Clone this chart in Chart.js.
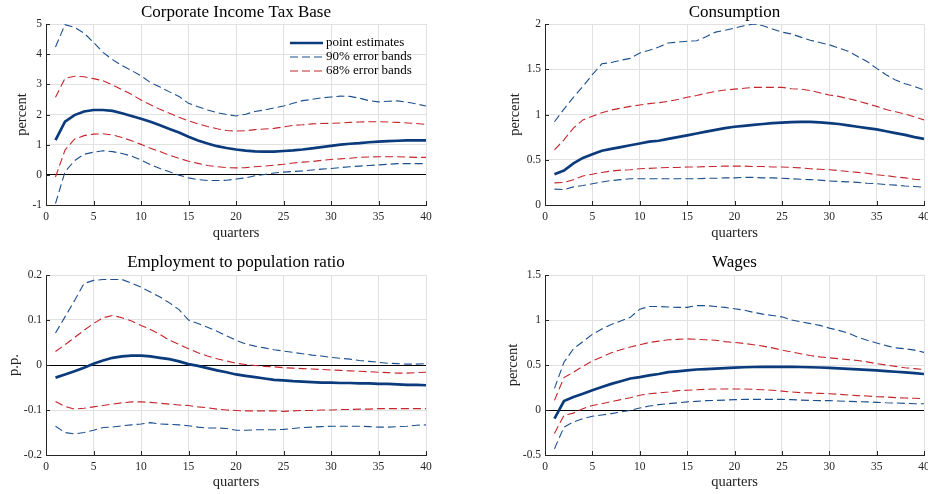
<!DOCTYPE html>
<html><head><meta charset="utf-8">
<script src="https://cdn.jsdelivr.net/npm/chart.js@4.4.1/dist/chart.umd.min.js"></script>
<style>
html,body{margin:0;padding:0;background:#fff}
body{width:928px;height:494px;position:relative;overflow:hidden}
.p{position:absolute;width:464px;height:247px}
canvas{display:block}
</style></head><body>
<div class="p" style="left:0;top:0"><canvas id="c1" width="464" height="247"></canvas></div>
<div class="p" style="left:464px;top:0"><canvas id="c2" width="464" height="247"></canvas></div>
<div class="p" style="left:0;top:247px"><canvas id="c3" width="464" height="247"></canvas></div>
<div class="p" style="left:464px;top:247px"><canvas id="c4" width="464" height="247"></canvas></div>
<script>
// ---------------- data ----------------
const quarters = [1,2,3,4,5,6,7,8,9,10,11,12,13,14,15,16,17,18,19,20,21,22,23,24,25,26,27,28,29,30,31,32,33,34,35,36,37,38,39,40];
const xTicks = [0,5,10,15,20,25,30,35,40];
const legendLabels = ['point estimates','90% error bands','68% error bands'];
const panelTitles = ['Corporate Income Tax Base','Consumption','Employment to population ratio','Wages'];
const yLabels = ['percent','percent','p.p.','percent'];
const xLabel = 'quarters';

// Corporate Income Tax Base
const citPoint = [1.15,1.76,1.98,2.10,2.15,2.15,2.12,2.04,1.95,1.86,1.76,1.64,1.52,1.40,1.26,1.14,1.04,0.95,0.89,0.84,0.80,0.78,0.77,0.77,0.79,0.81,0.84,0.88,0.92,0.96,1.00,1.03,1.05,1.08,1.10,1.12,1.13,1.14,1.14,1.14];
const citU90 = [4.24,4.98,4.89,4.70,4.39,4.06,3.82,3.62,3.46,3.28,3.06,2.91,2.75,2.60,2.37,2.26,2.15,2.06,2.00,1.95,2.01,2.10,2.15,2.22,2.28,2.37,2.46,2.50,2.55,2.58,2.61,2.60,2.54,2.46,2.42,2.44,2.45,2.41,2.35,2.28];
const citL90 = [-0.95,0.10,0.47,0.68,0.75,0.80,0.77,0.71,0.62,0.49,0.34,0.21,0.10,-0.01,-0.10,-0.16,-0.19,-0.19,-0.18,-0.14,-0.10,-0.03,0.01,0.06,0.09,0.11,0.13,0.16,0.19,0.21,0.24,0.27,0.29,0.31,0.33,0.35,0.37,0.37,0.37,0.37];
const citU68 = [2.57,3.20,3.27,3.25,3.19,3.12,2.98,2.82,2.67,2.48,2.32,2.17,2.04,1.91,1.79,1.69,1.60,1.53,1.47,1.45,1.46,1.50,1.52,1.54,1.59,1.64,1.66,1.69,1.70,1.71,1.72,1.74,1.75,1.76,1.76,1.75,1.74,1.72,1.70,1.67];
const citL68 = [-0.07,0.82,1.18,1.30,1.35,1.36,1.32,1.24,1.13,1.01,0.88,0.77,0.65,0.55,0.45,0.38,0.31,0.27,0.24,0.23,0.24,0.27,0.29,0.32,0.35,0.39,0.42,0.44,0.48,0.51,0.53,0.55,0.58,0.59,0.60,0.60,0.60,0.59,0.58,0.58];

// Consumption
const consPoint = [0.34,0.38,0.46,0.52,0.56,0.60,0.62,0.64,0.66,0.68,0.70,0.71,0.73,0.75,0.77,0.79,0.81,0.83,0.85,0.865,0.875,0.885,0.895,0.905,0.91,0.915,0.918,0.918,0.913,0.905,0.895,0.88,0.865,0.85,0.835,0.815,0.795,0.775,0.75,0.73];
const consU90 = [0.92,1.06,1.19,1.31,1.44,1.56,1.575,1.60,1.62,1.68,1.71,1.745,1.79,1.80,1.81,1.815,1.86,1.91,1.93,1.955,1.98,2.00,1.98,1.945,1.91,1.89,1.855,1.82,1.795,1.77,1.735,1.70,1.64,1.585,1.51,1.44,1.38,1.34,1.31,1.27];
const consL90 = [0.175,0.17,0.20,0.215,0.235,0.255,0.27,0.28,0.29,0.29,0.29,0.29,0.29,0.29,0.29,0.29,0.295,0.295,0.30,0.30,0.305,0.305,0.30,0.30,0.295,0.29,0.285,0.28,0.275,0.265,0.26,0.255,0.25,0.24,0.235,0.225,0.22,0.21,0.205,0.195];
const consU68 = [0.61,0.72,0.85,0.94,0.98,1.02,1.05,1.07,1.09,1.105,1.12,1.13,1.145,1.165,1.19,1.21,1.235,1.255,1.27,1.28,1.29,1.30,1.30,1.30,1.30,1.285,1.28,1.265,1.24,1.215,1.20,1.175,1.15,1.12,1.09,1.055,1.03,1.005,0.975,0.94];
const consL68 = [0.245,0.25,0.28,0.32,0.34,0.36,0.375,0.385,0.39,0.40,0.405,0.41,0.415,0.415,0.42,0.42,0.425,0.425,0.43,0.43,0.43,0.425,0.425,0.42,0.42,0.415,0.41,0.40,0.395,0.39,0.38,0.37,0.36,0.35,0.335,0.325,0.31,0.30,0.285,0.275];

// Employment to population ratio
const empPoint = [-0.028,-0.021,-0.014,-0.006,0.003,0.010,0.016,0.019,0.021,0.021,0.019,0.016,0.013,0.008,0.002,-0.002,-0.007,-0.012,-0.016,-0.021,-0.024,-0.027,-0.030,-0.033,-0.034,-0.036,-0.037,-0.038,-0.039,-0.039,-0.040,-0.040,-0.041,-0.041,-0.042,-0.042,-0.043,-0.044,-0.044,-0.045];
const empU90 = [0.071,0.107,0.143,0.181,0.188,0.190,0.190,0.190,0.182,0.173,0.162,0.151,0.138,0.123,0.100,0.092,0.084,0.075,0.065,0.055,0.047,0.042,0.038,0.034,0.031,0.028,0.025,0.022,0.020,0.017,0.015,0.013,0.010,0.008,0.006,0.004,0.003,0.002,0.002,0.003];
const empL90 = [-0.136,-0.150,-0.153,-0.150,-0.145,-0.139,-0.138,-0.135,-0.133,-0.131,-0.128,-0.131,-0.132,-0.133,-0.135,-0.138,-0.140,-0.140,-0.141,-0.145,-0.145,-0.144,-0.144,-0.144,-0.143,-0.141,-0.139,-0.138,-0.137,-0.136,-0.136,-0.136,-0.136,-0.137,-0.138,-0.138,-0.137,-0.136,-0.134,-0.133];
const empU68 = [0.030,0.045,0.061,0.077,0.092,0.105,0.110,0.105,0.098,0.088,0.079,0.068,0.055,0.046,0.036,0.027,0.020,0.014,0.009,0.004,0.001,-0.001,-0.003,-0.004,-0.006,-0.007,-0.008,-0.009,-0.010,-0.011,-0.012,-0.013,-0.014,-0.015,-0.016,-0.017,-0.018,-0.018,-0.017,-0.016];
const empL68 = [-0.081,-0.092,-0.098,-0.096,-0.093,-0.090,-0.087,-0.084,-0.082,-0.082,-0.083,-0.085,-0.087,-0.089,-0.090,-0.093,-0.095,-0.098,-0.100,-0.101,-0.102,-0.102,-0.102,-0.102,-0.103,-0.102,-0.101,-0.101,-0.100,-0.100,-0.099,-0.099,-0.098,-0.098,-0.097,-0.097,-0.097,-0.097,-0.097,-0.097];

// Wages
const wagePoint = [-0.096,0.10,0.145,0.18,0.22,0.255,0.29,0.32,0.35,0.365,0.385,0.40,0.42,0.43,0.44,0.45,0.455,0.46,0.465,0.47,0.475,0.478,0.48,0.48,0.48,0.48,0.478,0.475,0.472,0.468,0.463,0.457,0.452,0.446,0.44,0.432,0.425,0.417,0.41,0.40];
const wageU90 = [0.24,0.53,0.68,0.76,0.84,0.90,0.95,0.99,1.03,1.12,1.15,1.15,1.145,1.14,1.14,1.16,1.16,1.15,1.14,1.125,1.11,1.085,1.065,1.05,1.035,1.00,0.98,0.96,0.94,0.91,0.885,0.855,0.81,0.775,0.745,0.715,0.69,0.68,0.665,0.64];
const wageL90 = [-0.43,-0.19,-0.133,-0.096,-0.07,-0.055,-0.04,-0.022,-0.004,0.022,0.044,0.06,0.07,0.08,0.09,0.096,0.104,0.107,0.11,0.115,0.118,0.118,0.118,0.118,0.118,0.115,0.11,0.107,0.104,0.104,0.10,0.096,0.093,0.09,0.085,0.08,0.078,0.074,0.07,0.07];
const wageU68 = [0.107,0.36,0.42,0.485,0.545,0.59,0.635,0.67,0.70,0.725,0.75,0.765,0.78,0.785,0.79,0.785,0.78,0.775,0.76,0.75,0.74,0.725,0.71,0.69,0.665,0.645,0.625,0.605,0.59,0.58,0.57,0.56,0.55,0.535,0.515,0.50,0.485,0.47,0.46,0.45];
const wageL68 = [-0.26,-0.06,-0.035,0.015,0.05,0.07,0.093,0.115,0.137,0.163,0.18,0.19,0.20,0.215,0.22,0.225,0.23,0.233,0.233,0.233,0.233,0.23,0.225,0.22,0.21,0.20,0.193,0.19,0.185,0.18,0.175,0.167,0.16,0.155,0.148,0.145,0.137,0.133,0.13,0.125];

// ---------------- style ----------------
const FONT = '"Liberation Serif", "Times New Roman", serif';
const C_POINT = '#0b3b7c';
const C_B90 = '#1c4f8e';
const C_R68 = '#c4262c';
const AXIS = '#262626';
const GRID = '#e1e1e1';
const DASH = [8,4];

function pts(v){ return quarters.map((q,i)=>({x:q, y:v[i]})); }
function fmt(v){ return String(Math.round(v*1000)/1000); }

function makePanel(id, o){
  const datasets = [
    {label:legendLabels[0], data:pts(o.point), borderColor:C_POINT, borderWidth:2.7},
    {label:legendLabels[1], data:pts(o.u90), borderColor:C_B90, borderWidth:1.1, borderDash:DASH},
    {label:legendLabels[1], data:pts(o.l90), borderColor:C_B90, borderWidth:1.1, borderDash:DASH},
    {label:legendLabels[2], data:pts(o.u68), borderColor:C_R68, borderWidth:1.1, borderDash:DASH},
    {label:legendLabels[2], data:pts(o.l68), borderColor:C_R68, borderWidth:1.1, borderDash:DASH}
  ].map(d=>Object.assign({pointRadius:0, fill:false, tension:0, borderCapStyle:'butt'}, d));

  const titlePlugin = {
    id:'panelTitle',
    afterDraw(chart){
      const {ctx, chartArea:a} = chart;
      ctx.save();
      ctx.font = '17px ' + FONT; ctx.fillStyle = '#000';
      ctx.textAlign = 'center'; ctx.textBaseline = 'middle';
      ctx.fillText(o.title, (a.left+a.right)/2, o.titleY);
      ctx.restore();
    }
  };
  const inTicks = {
    id:'inTicks',
    afterDatasetsDraw(chart){
      const {ctx, chartArea:a, scales:{x, y}} = chart;
      ctx.save(); ctx.strokeStyle = AXIS; ctx.lineWidth = 1; ctx.beginPath();
      x.ticks.forEach(t=>{ const px = Math.round(x.getPixelForValue(t.value))+0.5; ctx.moveTo(px, a.bottom); ctx.lineTo(px, a.bottom-4); });
      y.ticks.forEach(t=>{ const py = Math.round(y.getPixelForValue(t.value))+0.5; ctx.moveTo(a.left, py); ctx.lineTo(a.left+4, py); });
      ctx.stroke(); ctx.restore();
    }
  };
  const legendPlugin = {
    id:'lineLegend',
    afterDraw(chart){
      if(!o.legend) return;
      const {ctx, chartArea:a} = chart;
      const ds = chart.data.datasets;
      const rows = [ds[0], ds[1], ds[3]];
      ctx.save();
      ctx.font = '13px ' + FONT; ctx.textBaseline = 'middle'; ctx.textAlign = 'left'; ctx.fillStyle = '#000';
      rows.forEach((d,i)=>{
        const yy = a.top + 19 + i*14;
        const x0 = a.left + 244;
        ctx.beginPath(); ctx.strokeStyle = d.borderColor; ctx.lineWidth = d.borderWidth;
        ctx.setLineDash(d.borderDash || []);
        ctx.moveTo(x0, yy); ctx.lineTo(x0+33, yy); ctx.stroke();
        ctx.setLineDash([]);
        ctx.fillText(legendLabels[i], x0+36, yy);
      });
      ctx.restore();
    }
  };

  new Chart(document.getElementById(id), {
    type:'line',
    data:{datasets},
    plugins:[titlePlugin, inTicks, legendPlugin],
    options:{
      responsive:false, animation:false, devicePixelRatio:1,
      layout:{padding:{top:o.padTop, right:o.padRight, bottom:0, left:0}},
      plugins:{legend:{display:false}, title:{display:false}, tooltip:{enabled:false}},
      scales:{
        x:{
          type:'linear', min:0, max:40,
          afterBuildTicks(s){ s.ticks = xTicks.map(v=>({value:v})); },
          afterFit(s){ s.height = o.xH; s.paddingLeft = 0; s.paddingRight = 0; },
          grid:{color:GRID, lineWidth:1, drawTicks:false},
          border:{color:AXIS, width:1},
          ticks:{color:AXIS, font:{family:FONT, size:11.5}, padding:5, maxRotation:0, autoSkip:false, callback:v=>fmt(v)},
          title:{display:true, text:xLabel, color:'#222', font:{family:FONT, size:14.5, lineHeight:1.2}, padding:{top:0, bottom:o.xTitlePad}}
        },
        y:{
          type:'linear', min:o.yMin, max:o.yMax,
          afterBuildTicks(s){ s.ticks = o.yTicks.map(v=>({value:v})); },
          afterFit(s){ s.width = o.yW; s.paddingTop = 0; s.paddingBottom = 0; },
          grid:{color:c=>(c.tick && c.tick.value===0) ? '#000' : GRID, lineWidth:1, drawTicks:false},
          border:{color:AXIS, width:1},
          ticks:{color:AXIS, font:{family:FONT, size:11.5}, padding:4, autoSkip:false, callback:v=>fmt(v)},
          title:{display:true, text:o.yLabel, color:'#222', font:{family:FONT, size:14.5, lineHeight:1.2}, padding:{top:o.yTitlePad, bottom:0}}
        }
      }
    }
  });
}

makePanel('c1', {title:panelTitles[0], yLabel:yLabels[0], point:citPoint, u90:citU90, l90:citL90, u68:citU68, l68:citL68,
  yMin:-1, yMax:5, yTicks:[-1,0,1,2,3,4,5], legend:true,
  padTop:24, padRight:38, yW:46, xH:42, titleY:13, yTitlePad:13.3, xTitlePad:5.5});
makePanel('c2', {title:panelTitles[1], yLabel:yLabels[1], point:consPoint, u90:consU90, l90:consL90, u68:consU68, l68:consL68,
  yMin:0, yMax:2, yTicks:[0,0.5,1,1.5,2], legend:false,
  padTop:24, padRight:4, yW:81, xH:42, titleY:13, yTitlePad:42, xTitlePad:5.5});
makePanel('c3', {title:panelTitles[2], yLabel:yLabels[2], point:empPoint, u90:empU90, l90:empL90, u68:empU68, l68:empL68,
  yMin:-0.2, yMax:0.2, yTicks:[-0.2,-0.1,0,0.1,0.2], legend:false,
  padTop:28, padRight:38, yW:46, xH:39, titleY:16, yTitlePad:5.6, xTitlePad:3});
makePanel('c4', {title:panelTitles[3], yLabel:yLabels[3], point:wagePoint, u90:wageU90, l90:wageL90, u68:wageU68, l68:wageL68,
  yMin:-0.5, yMax:1.5, yTicks:[-0.5,0,0.5,1,1.5], legend:false,
  padTop:28, padRight:4, yW:81, xH:39, titleY:16, yTitlePad:40, xTitlePad:3});
</script>
</body></html>
